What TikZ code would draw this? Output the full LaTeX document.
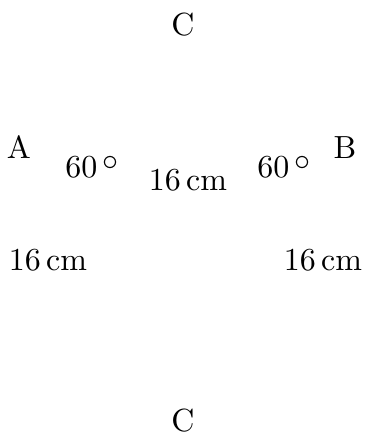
\documentclass[tikz,border=0pt]{standalone}
\usetikzlibrary{positioning}

\newcommand{\degsign}{\raisebox{2pt}{$\circ$}}

\begin{document}
\begin{tikzpicture}[
    x=0.3125pt, y=-0.3125pt,
    lbl/.style={inner sep=0pt, anchor=base, font=\normalsize},
]
\useasboundingbox (0,0) rectangle (368,434);

\node[lbl] (Ctop) at (183,35)  {C};
\node[lbl] (A)    at (19,158)  {A};
\node[lbl] (B)    at (345,158) {B};

\node[lbl] (angA) at (92,177)  {60\,\degsign};
\node[lbl] (angB) at (284,177) {60\,\degsign};
\node[lbl] (AB)   at (188,190) {16\,cm};

\node[lbl] (AC)   at (48,270)  {16\,cm};
\node[lbl] (BC)   at (323,270) {16\,cm};

\node[lbl] (Cbot) at (183,431) {C};
\end{tikzpicture}
\end{document}
